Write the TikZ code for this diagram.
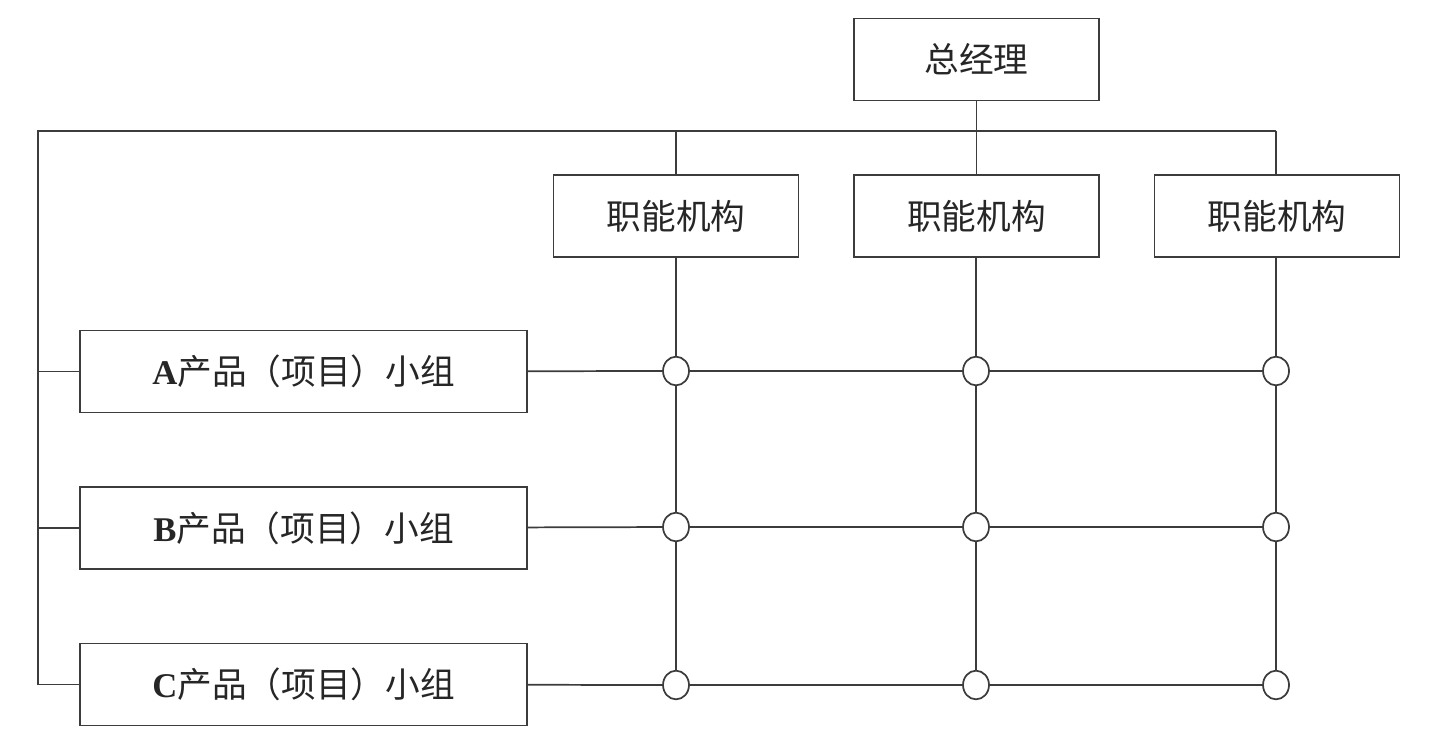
\documentclass[tikz,border=0pt]{standalone}
\usepackage{fontspec}
\setmainfont{Liberation Serif}
\newfontfamily\cjk{Noto Sans CJK SC}
\usepackage{tikz}
\usetikzlibrary{shapes.geometric, positioning}
\definecolor{linea}{RGB}{60,60,60}
\tikzset{
  caja/.style={rectangle, draw=linea, line width=1.3pt, fill=white,
    minimum width=183.75pt, minimum height=61.5pt, align=center,
    font=\fontsize{26}{30}\selectfont\cjk, text=black!85},
  grupo/.style={caja, minimum width=335pt},
  nudo/.style={ellipse, draw=linea, line width=1.3pt, fill=white,
    minimum width=19.5pt, minimum height=21.5pt, inner sep=0pt},
  enlace/.style={draw=linea, line width=1.3pt}
}
\newcommand{\letra}[1]{{\fontsize{26}{30}\selectfont\rmfamily\bfseries #1}}

\begin{document}
\begin{tikzpicture}[x=0.75pt, y=-0.75pt]
  \useasboundingbox (0,0) rectangle (1434,743);
  % direccion general
  \node[caja] (gerente) at (976.5,59.5) {总经理};
  % bus superior
  \coordinate (busI) at (38,131);
  \coordinate (busD) at (1276,131);
  \coordinate (busB) at (38,685);
  % funciones
  \node[caja] (func1) at (676,216) {职能机构};
  \node[caja] (func2) at (976.5,216) {职能机构};
  \node[caja] (func3) at (1277,216) {职能机构};
  % grupos de producto
  \node[grupo] (grA) at (303.5,371.5) {\letra{A}产品（项目）小组};
  \node[grupo] (grB) at (303.5,528) {\letra{B}产品（项目）小组};
  \node[grupo] (grC) at (303.5,684.5) {\letra{C}产品（项目）小组};
  % nudos de la matriz
  \node[nudo] (a1) at (676,371) {};
  \node[nudo] (a2) at (976,371) {};
  \node[nudo] (a3) at (1276,371) {};
  \node[nudo] (b1) at (676,527) {};
  \node[nudo] (b2) at (976,527) {};
  \node[nudo] (b3) at (1276,527) {};
  \node[nudo] (c1) at (676,685) {};
  \node[nudo] (c2) at (976,685) {};
  \node[nudo] (c3) at (1276,685) {};
  % lineas
  \draw[enlace] (gerente.south) -- (gerente.south |- busI);
  \draw[enlace] (busB) -- (busI) -- (busD);
  \draw[enlace] (func1.north) -- (func1.north |- busI);
  \draw[enlace] (func2.north) -- (func2.north |- busI);
  \draw[enlace] (busD) -- (busD |- func3.north);
  \draw[enlace] (grA.west -| busI) -- (grA.west);
  \draw[enlace] (grB.west -| busI) -- (grB.west);
  \draw[enlace] (grC.west -| busI) -- (grC.west);
  \draw[enlace] (a1 |- func1.south) -- (a1) (a1) -- (b1) (b1) -- (c1);
  \draw[enlace] (a2 |- func2.south) -- (a2) (a2) -- (b2) (b2) -- (c2);
  \draw[enlace] (a3 |- func3.south) -- (a3) (a3) -- (b3) (b3) -- (c3);
  \draw[enlace] (grA) -- (a1) (a1) -- (a2) (a2) -- (a3);
  \draw[enlace] (grB) -- (b1) (b1) -- (b2) (b2) -- (b3);
  \draw[enlace] (grC) -- (c1) (c1) -- (c2) (c2) -- (c3);
\end{tikzpicture}
\end{document}
